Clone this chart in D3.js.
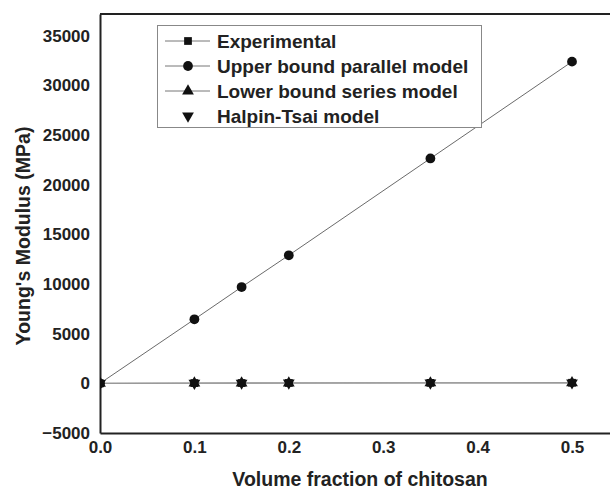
<!DOCTYPE html>
<html>
<head>
<meta charset="utf-8">
<script src="https://cdn.jsdelivr.net/npm/d3@7"></script>
<style>
  body { margin: 0; background: #fff; }
  text { font-family: "Liberation Sans", Arial, sans-serif; font-weight: bold; fill: #222; }
</style>
</head>
<body>
<div class="canvas"></div>
<script>
// data
const volumeFraction = [0, 0.1, 0.15, 0.2, 0.35, 0.5];
const experimental = [0, 30, 35, 40, 50, 60];
const upperBound = [0, 6450, 9700, 12900, 22650, 32400];
const lowerBound = [0, 20, 25, 30, 40, 50];
const halpinTsai = [0, 25, 30, 35, 45, 55];
const xTicks = [0, 0.1, 0.2, 0.3, 0.4, 0.5];
const yTicks = [-5000, 0, 5000, 10000, 15000, 20000, 25000, 30000, 35000];
const legendLabels = ['Experimental', 'Upper bound parallel model', 'Lower bound series model', 'Halpin-Tsai model'];

const width = 610, height = 491;
const plotLeft = 100, plotTop = 14, plotBottom = 433;

const svg = d3.select('.canvas')
  .append('svg')
   .attr('width', width)
   .attr('height', height);

// scales: x axis runs past the right edge of the window
const x = d3.scaleLinear()
  .domain([0, 0.55])
  .range([plotLeft, plotLeft + 472 * 1.1]);

const y = d3.scaleLinear()
  .domain([-5000, 37200])
  .range([plotBottom, plotTop]);

svg.append('clipPath').attr('id', 'plot')
  .append('rect')
   .attr('x', plotLeft).attr('y', plotTop)
   .attr('width', width - plotLeft).attr('height', plotBottom - plotTop);

//axes
const xAxis = d3.axisBottom(x).tickValues(xTicks).tickSize(0).tickPadding(8)
  .tickFormat(d3.format('.1f'));
const yAxis = d3.axisLeft(y).tickValues(yTicks).tickSize(0).tickPadding(10)
  .tickFormat(d3.format('d'));

const xg = svg.append('g')
  .attr('transform', `translate(0, ${plotBottom})`)
  .call(xAxis);
const yg = svg.append('g')
  .attr('transform', `translate(${plotLeft}, 0)`)
  .call(yAxis);

[xg, yg].forEach(g => {
  g.select('.domain').attr('stroke', '#222').attr('stroke-width', 2);
  g.selectAll('text').attr('font-size', '17px').attr('fill', '#222');
});

// top frame line
svg.append('line')
  .attr('x1', plotLeft).attr('x2', width)
  .attr('y1', y(37200)).attr('y2', y(37200))
  .attr('stroke', '#222').attr('stroke-width', 2);

//axis titles
svg.append('text')
  .attr('x', 360).attr('y', 486)
  .attr('text-anchor', 'middle')
  .attr('font-size', '19.5px')
  .text('Volume fraction of chitosan');

svg.append('text')
  .attr('transform', 'translate(30, 236) rotate(-90)')
  .attr('text-anchor', 'middle')
  .attr('font-size', '19.5px')
  .text("Young's Modulus (MPa)");

// series
const plot = svg.append('g').attr('clip-path', 'url(#plot)');

const line = vals => d3.line()
  .x((d, i) => x(volumeFraction[i]))
  .y(d => y(d))(vals);

plot.append('path').attr('d', line(experimental))
  .attr('fill', 'none').attr('stroke', '#999').attr('stroke-width', 1.3);
plot.append('path').attr('d', line(lowerBound))
  .attr('fill', 'none').attr('stroke', '#999').attr('stroke-width', 1.3);
plot.append('path').attr('d', line(upperBound))
  .attr('fill', 'none').attr('stroke', '#444').attr('stroke-width', 0.8);

const sym = {
  square: d3.symbol().type(d3.symbolSquare).size(60)(),
  circle: d3.symbol().type(d3.symbolCircle).size(75)(),
  tri: d3.symbol().type(d3.symbolTriangle).size(60)()
};

function markers(vals, path, rot) {
  plot.append('g').selectAll('path')
    .data(vals)
    .join('path')
     .attr('d', path)
     .attr('fill', '#111')
     .attr('transform', (d, i) => `translate(${x(volumeFraction[i])}, ${y(d)}) rotate(${rot})`);
}
markers(experimental, sym.square, 0);
markers(upperBound, sym.circle, 0);
markers(lowerBound, sym.tri, 0);
markers(halpinTsai, sym.tri, 180);

// legend
const legend = svg.append('g');
legend.append('rect')
  .attr('x', 157.5).attr('y', 25.5)
  .attr('width', 324).attr('height', 102)
  .attr('fill', '#fff').attr('stroke', '#888').attr('stroke-width', 1);

const legendSym = [[sym.square, 0], [sym.circle, 0], [sym.tri, 0], [sym.tri, 180]];
const rows = legend.selectAll('g.row')
  .data(legendLabels)
  .join('g')
   .attr('class', 'row')
   .attr('transform', (d, i) => `translate(0, ${41 + i * 25})`);

rows.filter((d, i) => i < 3).append('line')
  .attr('x1', 165).attr('x2', 210)
  .attr('stroke', '#777').attr('stroke-width', 1);
rows.append('path')
  .attr('d', (d, i) => legendSym[i][0])
  .attr('transform', (d, i) => `translate(188, 0) rotate(${legendSym[i][1]})`)
  .attr('fill', '#111');
rows.append('text')
  .attr('x', 217).attr('y', 6.5)
  .attr('font-size', '19px')
  .text(d => d);
</script>
</body>
</html>
